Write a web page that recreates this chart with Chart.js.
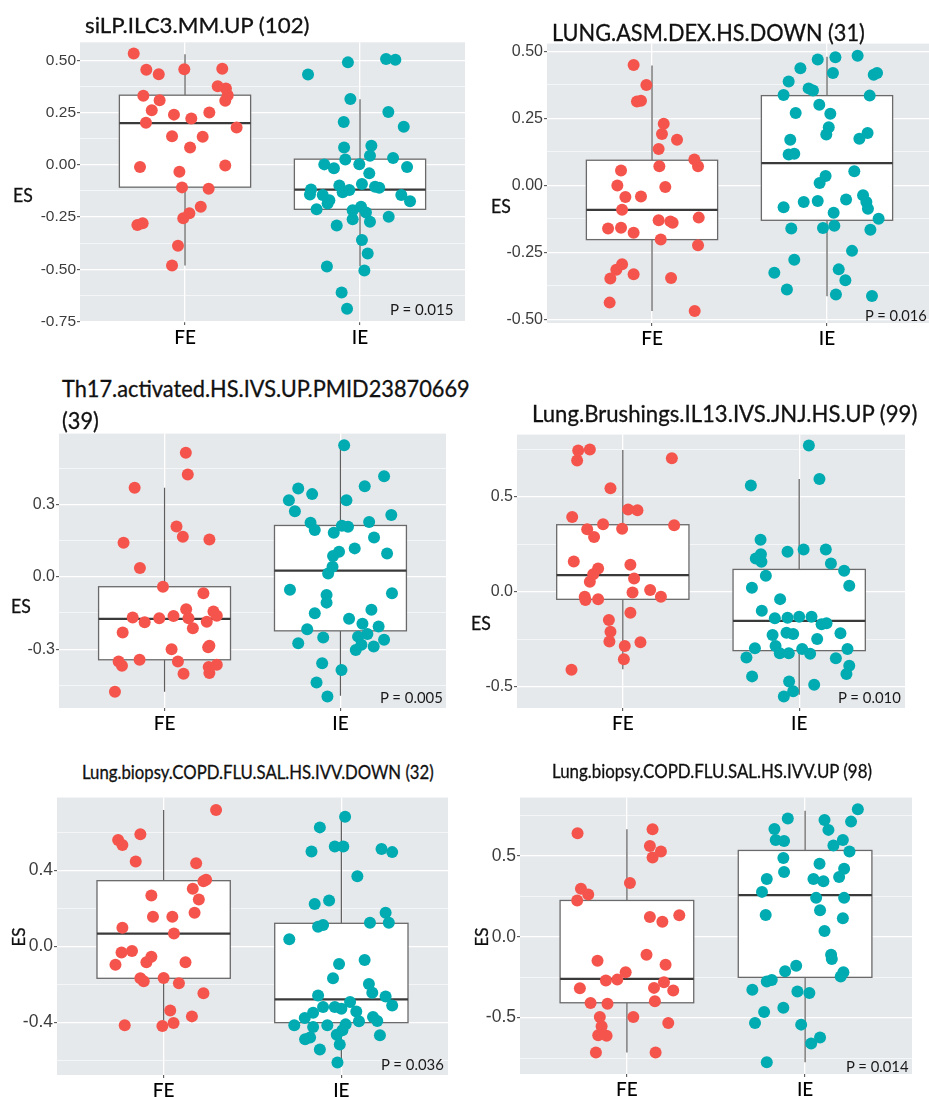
<!DOCTYPE html>
<html>
<head>
<meta charset="utf-8">
<script src="https://cdn.jsdelivr.net/npm/chart.js@4.4.1/dist/chart.umd.min.js"></script>
<style>
  body { margin: 0; width: 929px; height: 1097px; overflow: hidden; background: #fff; position: relative; }
  canvas { position: absolute; }
  .txt { position: absolute; white-space: nowrap; line-height: 1; color: #111; font-family: Lato, "Open Sans", sans-serif;
         -webkit-text-stroke: 0.3px #111; }
  .txt.thin { -webkit-text-stroke: 0; color: #1a1a1a; }
</style>
</head>
<body>
<script>
// groups on the x axis
const groups = ['FE', 'IE'];

// ---- panel 1: siLP.ILC3.MM.UP (102)
const p1FeJit = [-0.293,-0.221,-0.150,-0.004,0.213,-0.238,-0.145,-0.190,-0.223,-0.063,0.036,0.139,0.187,0.234,0.244,0.230,0.295,-0.074,0.101,0.029,-0.257,0.230,-0.032,-0.017,0.135,0.090,0.025,-0.010,-0.272,-0.242,-0.040,-0.074];
const p1FeY = [0.532,0.455,0.433,0.457,0.460,0.330,0.309,0.261,0.201,0.240,0.221,0.250,0.376,0.365,0.333,0.306,0.178,0.137,0.134,0.083,-0.010,-0.003,-0.033,-0.108,-0.115,-0.201,-0.232,-0.256,-0.288,-0.280,-0.387,-0.482];
const p1IeJit = [-0.297,-0.069,0.149,0.202,-0.055,0.162,0.250,-0.093,-0.091,0.065,0.057,-0.084,0.189,-0.204,-0.149,-0.004,0.269,0.053,0.011,-0.118,-0.099,-0.061,0.086,0.110,-0.280,-0.286,-0.213,-0.175,-0.185,0.236,0.286,-0.248,0.006,-0.042,0.034,-0.042,0.057,-0.133,0.164,0.011,0.044,-0.189,0.025,-0.105,-0.074];
const p1IeY = [0.432,0.490,0.506,0.503,0.315,0.253,0.182,0.205,0.083,0.091,0.043,0.025,0.033,0.002,-0.017,0.003,-0.010,-0.041,-0.092,-0.099,-0.131,-0.121,-0.105,-0.110,-0.118,-0.142,-0.145,-0.169,-0.185,-0.145,-0.174,-0.213,-0.201,-0.217,-0.228,-0.261,-0.272,-0.290,-0.248,-0.360,-0.424,-0.487,-0.506,-0.611,-0.689];
// box stats: lower whisker, q1, median, q3, upper whisker
const p1FeBox = [-0.482,-0.107,0.199,0.333,0.529];
const p1IeBox = [-0.484,-0.213,-0.119,0.027,0.314];
const p1Ticks = [0.5,0.25,0,-0.25,-0.5,-0.75];
const p1TickLabels = ['0.50','0.25','0.00','-0.25','-0.50','-0.75'];

// ---- panel 2: LUNG.ASM.DEX.HS.DOWN (31)
const p2FeJit = [-0.105,-0.032,-0.086,-0.063,0.067,0.057,0.143,0.038,0.242,0.263,-0.177,0.042,-0.198,0.076,-0.152,-0.063,-0.171,0.038,0.105,0.118,0.267,-0.251,-0.177,-0.105,0.050,0.263,-0.171,-0.204,-0.238,-0.105,0.109,-0.242,0.244];
const p2FeY = [0.449,0.375,0.313,0.316,0.230,0.192,0.170,0.136,0.097,0.072,0.056,0.072,0.000,-0.006,-0.043,-0.041,-0.091,-0.130,-0.134,-0.139,-0.120,-0.161,-0.158,-0.176,-0.202,-0.223,-0.294,-0.314,-0.347,-0.331,-0.345,-0.437,-0.468];
const p2IeJit = [-0.053,0.048,0.175,-0.152,0.034,0.267,0.286,-0.219,-0.105,-0.080,-0.248,0.244,-0.044,-0.179,0.019,0.010,-0.004,0.232,0.185,-0.210,-0.219,-0.187,0.156,-0.008,-0.042,-0.248,-0.133,-0.053,0.109,0.206,0.225,0.234,0.038,0.295,-0.204,-0.023,0.042,0.248,0.143,-0.187,-0.301,0.067,0.105,-0.229,0.051,0.257];
const p2IeY = [0.470,0.478,0.484,0.437,0.419,0.413,0.419,0.388,0.362,0.354,0.337,0.335,0.301,0.270,0.267,0.217,0.190,0.196,0.174,0.170,0.115,0.118,0.053,0.035,0.009,-0.081,-0.062,-0.058,-0.052,-0.037,-0.062,-0.087,-0.102,-0.124,-0.161,-0.159,-0.150,-0.165,-0.244,-0.277,-0.326,-0.313,-0.354,-0.388,-0.407,-0.412];
const p2FeBox = [-0.468,-0.202,-0.091,0.094,0.447];
const p2IeBox = [-0.413,-0.130,0.083,0.335,0.480];
const p2Ticks = [0.5,0.25,0,-0.25,-0.5];
const p2TickLabels = ['0.50','0.25','0.00','-0.25','-0.50'];

// ---- panel 3: Th17.activated.HS.IVS.UP.PMID23870669 (39)
const p3FeJit = [0.121,0.132,-0.170,-0.233,0.068,0.104,0.255,-0.140,-0.009,0.221,0.123,-0.181,-0.113,-0.030,0.051,0.136,0.278,0.297,0.240,0.161,-0.238,0.040,0.248,0.255,-0.261,-0.242,-0.142,0.076,0.108,0.251,0.297,0.255,-0.282];
const p3FeY = [0.515,0.424,0.369,0.141,0.209,0.166,0.155,0.037,-0.041,-0.068,-0.134,-0.169,-0.188,-0.172,-0.162,-0.172,-0.144,-0.161,-0.186,-0.213,-0.231,-0.300,-0.292,-0.286,-0.351,-0.369,-0.344,-0.351,-0.402,-0.374,-0.365,-0.399,-0.477];
const p3IeJit = [0.021,0.248,0.138,-0.240,-0.161,-0.293,0.034,-0.259,0.289,-0.170,-0.146,0.163,0.008,0.043,-0.038,0.191,0.081,0.265,-0.008,-0.042,-0.045,-0.070,-0.287,0.293,-0.079,-0.079,-0.146,0.176,0.049,0.125,0.217,-0.189,0.153,0.100,-0.098,0.248,-0.240,0.119,0.189,0.087,-0.104,0.006,-0.136,-0.074];
const p3IeY = [0.546,0.417,0.376,0.366,0.343,0.318,0.318,0.272,0.256,0.224,0.194,0.227,0.212,0.208,0.183,0.163,0.118,0.097,0.104,0.086,0.042,0.014,-0.054,-0.068,-0.075,-0.107,-0.151,-0.137,-0.174,-0.195,-0.206,-0.217,-0.237,-0.248,-0.252,-0.261,-0.275,-0.282,-0.289,-0.303,-0.358,-0.386,-0.438,-0.496];
const p3FeBox = [-0.477,-0.344,-0.174,-0.041,0.369];
const p3IeBox = [-0.493,-0.224,0.026,0.213,0.546];
const p3Ticks = [0.3,0,-0.3];
const p3TickLabels = ['0.3','0.0','-0.3'];

// ---- panel 4: Lung.Brushings.IL13.IVS.JNJ.HS.UP (99)
const p4FeJit = [-0.253,-0.187,-0.259,0.278,-0.070,0.030,0.083,-0.287,-0.112,-0.004,0.291,-0.202,-0.163,-0.278,0.043,-0.140,-0.168,-0.187,0.064,0.055,0.155,0.216,-0.216,-0.212,-0.140,0.043,-0.079,-0.070,-0.076,0.011,0.100,0.006,-0.291];
const p4FeY = [0.746,0.751,0.693,0.705,0.547,0.435,0.430,0.395,0.356,0.333,0.351,0.330,0.289,0.160,0.142,0.123,0.093,0.053,0.070,-0.004,0.009,-0.026,-0.026,-0.044,-0.040,-0.111,-0.149,-0.211,-0.263,-0.286,-0.267,-0.356,-0.412];
const p4IeJit = [0.055,0.115,-0.274,-0.219,-0.217,-0.246,-0.214,-0.066,0.025,0.151,0.180,0.255,-0.189,0.284,-0.268,-0.108,-0.212,-0.138,-0.066,0.000,0.070,0.127,0.155,-0.072,-0.034,-0.151,0.234,0.102,-0.251,-0.134,0.017,0.274,-0.110,-0.059,0.062,-0.299,0.208,0.284,0.268,-0.267,-0.057,0.085,-0.034,-0.087];
const p4IeY = [0.772,0.596,0.561,0.275,0.198,0.175,0.158,0.211,0.223,0.223,0.149,0.111,0.084,0.032,0.021,-0.039,-0.100,-0.140,-0.137,-0.132,-0.132,-0.172,-0.167,-0.216,-0.223,-0.228,-0.219,-0.249,-0.298,-0.286,-0.302,-0.302,-0.325,-0.325,-0.328,-0.347,-0.351,-0.391,-0.435,-0.447,-0.474,-0.491,-0.526,-0.553];
const p4FeBox = [-0.409,-0.040,0.088,0.354,0.749];
const p4IeBox = [-0.544,-0.311,-0.154,0.118,0.596];
const p4Ticks = [0.5,0,-0.5];
const p4TickLabels = ['0.5','0.0','-0.5'];

// ---- panel 5: Lung.biopsy.COPD.FLU.SAL.HS.IVV.DOWN (32)
const p5FeJit = [0.295,-0.131,-0.256,-0.232,-0.157,0.183,0.239,0.224,0.164,0.198,-0.069,-0.060,0.049,0.174,-0.232,0.058,-0.178,-0.237,-0.069,-0.097,-0.271,0.123,-0.131,-0.112,0.000,0.086,0.224,0.037,0.159,-0.219,-0.007,0.056];
const p5FeY = [0.717,0.590,0.560,0.534,0.447,0.438,0.351,0.343,0.304,0.247,0.268,0.157,0.157,0.177,0.099,0.068,-0.023,-0.031,-0.054,-0.083,-0.096,-0.083,-0.167,-0.183,-0.165,-0.193,-0.245,-0.336,-0.367,-0.414,-0.417,-0.402];
const p5IeJit = [0.021,-0.121,-0.037,0.011,-0.168,0.226,0.286,0.090,-0.069,-0.150,0.249,0.161,0.267,-0.131,-0.103,-0.293,-0.013,0.131,-0.047,0.155,0.174,-0.131,0.249,0.286,0.049,-0.103,-0.037,0.000,-0.159,0.084,-0.206,0.178,0.099,0.202,-0.265,-0.159,-0.079,0.024,0.006,-0.026,-0.204,-0.176,0.217,-0.009,-0.121,-0.022];
const p5IeY = [0.682,0.626,0.525,0.525,0.499,0.513,0.496,0.369,0.242,0.224,0.177,0.125,0.125,0.104,0.113,0.038,-0.092,-0.071,-0.167,-0.197,-0.243,-0.257,-0.263,-0.310,-0.292,-0.318,-0.318,-0.327,-0.348,-0.341,-0.376,-0.370,-0.393,-0.391,-0.414,-0.423,-0.414,-0.409,-0.440,-0.463,-0.487,-0.478,-0.466,-0.515,-0.541,-0.609];
const p5FeBox = [-0.388,-0.167,0.068,0.346,0.717];
const p5IeBox = [-0.609,-0.400,-0.278,0.122,0.682];
const p5Ticks = [0.4,0,-0.4];
const p5TickLabels = ['0.4','0.0','-0.4'];

// ---- panel 6: Lung.biopsy.COPD.FLU.SAL.HS.IVV.UP (98)
const p6FeJit = [-0.277,0.144,0.129,0.191,0.144,0.017,-0.258,-0.217,-0.279,0.129,0.199,0.294,0.110,-0.165,0.217,-0.007,-0.054,-0.118,0.208,-0.264,0.152,0.260,-0.204,-0.109,0.157,-0.152,0.036,-0.142,-0.161,-0.114,0.232,-0.174,0.161];
const p6FeY = [0.639,0.664,0.561,0.527,0.490,0.332,0.296,0.261,0.224,0.122,0.093,0.132,-0.111,-0.148,-0.173,-0.220,-0.265,-0.271,-0.281,-0.318,-0.316,-0.332,-0.410,-0.414,-0.398,-0.496,-0.496,-0.553,-0.608,-0.612,-0.533,-0.715,-0.715];
const p6IeJit = [0.296,-0.097,0.109,0.258,0.131,-0.172,-0.165,-0.118,0.212,0.159,0.249,-0.122,0.081,0.219,-0.118,0.191,-0.215,0.047,0.103,-0.242,0.062,0.219,0.084,-0.221,0.212,0.109,0.146,0.150,-0.050,-0.112,0.215,0.200,-0.187,-0.215,-0.296,-0.043,0.024,-0.122,-0.230,-0.281,-0.022,0.084,0.034,-0.215];
const p6IeY = [0.788,0.731,0.721,0.711,0.660,0.666,0.598,0.592,0.598,0.563,0.527,0.486,0.451,0.420,0.400,0.369,0.357,0.357,0.343,0.277,0.240,0.240,0.163,0.134,0.114,0.036,-0.111,-0.138,-0.179,-0.214,-0.220,-0.246,-0.267,-0.277,-0.328,-0.338,-0.347,-0.439,-0.465,-0.533,-0.543,-0.623,-0.660,-0.776];
const p6FeBox = [-0.715,-0.408,-0.261,0.224,0.664];
const p6IeBox = [-0.776,-0.251,0.257,0.533,0.778];
const p6Ticks = [0.5,0,-0.5];
const p6TickLabels = ['0.5','0.0','-0.5'];

const titles = ['siLP.ILC3.MM.UP (102)', 'LUNG.ASM.DEX.HS.DOWN (31)', 'Th17.activated.HS.IVS.UP.PMID23870669',
  'Lung.Brushings.IL13.IVS.JNJ.HS.UP (99)', 'Lung.biopsy.COPD.FLU.SAL.HS.IVV.DOWN (32)', 'Lung.biopsy.COPD.FLU.SAL.HS.IVV.UP (98)'];
const pValues = ['P = 0.015', 'P = 0.016', 'P = 0.005', 'P = 0.010', 'P = 0.036', 'P = 0.014'];

const RED = '#F5544C', TEAL = '#00ABB1', PANEL_BG = '#E6E9EC';

// plot rectangles on the page and y ranges
const panels = [
  { feJit: p1FeJit, feY: p1FeY, ieJit: p1IeJit, ieY: p1IeY, feBox: p1FeBox, ieBox: p1IeBox, ticks: p1Ticks, labels: p1TickLabels,
    l: 80, t: 42, r: 465, b: 321.7, ymin: -0.752, ymax: 0.586, minor: [0.375,0.125,-0.125,-0.375,-0.625], tsize: 15.5 },
  { feJit: p2FeJit, feY: p2FeY, ieJit: p2IeJit, ieY: p2IeY, feBox: p2FeBox, ieBox: p2IeBox, ticks: p2Ticks, labels: p2TickLabels,
    l: 546.7, t: 43, r: 931.7, b: 322.7, ymin: -0.513, ymax: 0.529, minor: [0.375,0.125,-0.125,-0.375], tsize: 16 },
  { feJit: p3FeJit, feY: p3FeY, ieJit: p3IeJit, ieY: p3IeY, feBox: p3FeBox, ieBox: p3IeBox, ticks: p3Ticks, labels: p3TickLabels,
    l: 59.3, t: 433.3, r: 446, b: 708.3, ymin: -0.544, ymax: 0.594, minor: [0.45,0.15,-0.15,-0.45], tsize: 16 },
  { feJit: p4FeJit, feY: p4FeY, ieJit: p4IeJit, ieY: p4IeY, feBox: p4FeBox, ieBox: p4IeBox, ticks: p4Ticks, labels: p4TickLabels,
    l: 517.3, t: 434, r: 905, b: 708.3, ymin: -0.614, ymax: 0.830, minor: [0.75,0.25,-0.25], tsize: 16 },
  { feJit: p5FeJit, feY: p5FeY, ieJit: p5IeJit, ieY: p5IeY, feBox: p5FeBox, ieBox: p5IeBox, ticks: p5Ticks, labels: p5TickLabels,
    l: 57.3, t: 795.7, r: 448.3, b: 1075, ymin: -0.675, ymax: 0.783, minor: [0.6,0.2,-0.2,-0.6], tsize: 17.5 },
  { feJit: p6FeJit, feY: p6FeY, ieJit: p6IeJit, ieY: p6IeY, feBox: p6FeBox, ieBox: p6IeBox, ticks: p6Ticks, labels: p6TickLabels,
    l: 520, t: 795.7, r: 911.7, b: 1074, ymin: -0.848, ymax: 0.860, minor: [0.75,0.25,-0.25,-0.75], tsize: 17.5 }
];

// grey panel + boxplots drawn under the points
function boxPlugin(stats) {
  return {
    id: 'boxes',
    beforeDraw(chart) {
      const a = chart.chartArea, c = chart.ctx;
      c.save();
      c.fillStyle = PANEL_BG;
      c.fillRect(a.left, a.top, a.right - a.left, a.bottom - a.top);
      c.restore();
    },
    beforeDatasetsDraw(chart) {
      const xs = chart.scales.x, ys = chart.scales.y, c = chart.ctx;
      stats.forEach((s, i) => {
        const cx = xs.getPixelForValue(i + 1);
        const x0 = xs.getPixelForValue(i + 1 - 0.375), x1 = xs.getPixelForValue(i + 1 + 0.375);
        const [lo, q1, med, q3, hi] = s.map(v => ys.getPixelForValue(v));
        c.save();
        c.strokeStyle = '#5e5e5e';
        c.lineWidth = 1.2;
        c.beginPath();
        c.moveTo(cx, lo); c.lineTo(cx, q1);
        c.moveTo(cx, q3); c.lineTo(cx, hi);
        c.stroke();
        c.fillStyle = '#fff';
        c.fillRect(x0, q3, x1 - x0, q1 - q3);
        c.lineWidth = 1.3;
        c.strokeStyle = '#6a6a6a';
        c.strokeRect(x0, q3, x1 - x0, q1 - q3);
        c.strokeStyle = '#3a3a3a';
        c.lineWidth = 2.3;
        c.beginPath();
        c.moveTo(x0, med); c.lineTo(x1, med);
        c.stroke();
        c.restore();
      });
    }
  };
}

function makePanel(p) {
  const AXW = 70, AXH = 34, PT = 10, PR = 6;
  const w = Math.round(p.r - p.l + AXW + PR), h = Math.round(p.b - p.t + PT + AXH);
  const cv = document.createElement('canvas');
  cv.width = w; cv.height = h;
  cv.style.width = w + 'px'; cv.style.height = h + 'px';
  cv.style.left = (p.l - AXW) + 'px';
  cv.style.top = (p.t - PT) + 'px';
  document.body.appendChild(cv);

  const isMajor = v => p.ticks.some(t => Math.abs(t - v) < 1e-9);
  const yVals = p.ticks.concat(p.minor).sort((a, b) => a - b);

  new Chart(cv, {
    type: 'scatter',
    data: {
      datasets: [
        { label: groups[0], data: p.feY.map((y, i) => ({ x: 1 + p.feJit[i], y: y })),
          backgroundColor: RED, pointRadius: 6, borderWidth: 0, clip: false },
        { label: groups[1], data: p.ieY.map((y, i) => ({ x: 2 + p.ieJit[i], y: y })),
          backgroundColor: TEAL, pointRadius: 6, borderWidth: 0, clip: false }
      ]
    },
    options: {
      responsive: false,
      animation: false,
      devicePixelRatio: 1,
      events: [],
      layout: { padding: { top: PT, right: PR, left: 0, bottom: 0 }, autoPadding: false },
      plugins: { legend: { display: false }, tooltip: { enabled: false } },
      scales: {
        x: {
          type: 'linear', min: 0.4, max: 2.6,
          afterBuildTicks: ax => { ax.ticks = [1, 2].map(v => ({ value: v })); },
          afterFit: s => { s.height = AXH; },
          border: { display: false },
          grid: { color: '#fff', lineWidth: 1.3, tickColor: '#444', tickLength: 3, tickWidth: 1 },
          ticks: { callback: v => groups[v - 1], color: '#000', autoSkip: false, maxRotation: 0, padding: 1,
                   font: { family: 'Lato, "Open Sans", sans-serif', size: 19, weight: '500' } }
        },
        y: {
          min: p.ymin, max: p.ymax,
          afterBuildTicks: ax => { ax.ticks = yVals.map(v => ({ value: v })); },
          afterFit: s => { s.width = AXW; },
          border: { display: false },
          grid: {
            color: '#fff',
            lineWidth: c => isMajor(c.tick.value) ? 1.3 : 0.6,
            tickColor: c => isMajor(c.tick.value) ? '#444' : 'rgba(0,0,0,0)',
            tickLength: 3, tickWidth: 1
          },
          ticks: {
            autoSkip: false, padding: 1, color: '#3c3c3c',
            font: { family: '"Liberation Sans", Arial, sans-serif', size: p.tsize },
            callback: v => { const k = p.ticks.findIndex(t => Math.abs(t - v) < 1e-9); return k < 0 ? '' : p.labels[k]; }
          }
        }
      }
    },
    plugins: [boxPlugin([p.feBox, p.ieBox])]
  });
}

panels.forEach(makePanel);

// text labels: font size from the measured cap height, then squeezed to the measured width
function addText(str, o) {
  const el = document.createElement('div');
  el.className = 'txt' + (o.thin ? ' thin' : '');
  el.textContent = str;
  el.style.fontSize = o.size + 'px';
  document.body.appendChild(el);
  const k = o.w ? o.w / el.offsetWidth : 1;
  if (o.rot) {
    el.style.left = o.cx + 'px';
    el.style.top = o.cy + 'px';
    el.style.transform = 'translate(-50%,-50%) rotate(-90deg) scaleX(' + k + ')';
  } else {
    el.style.transformOrigin = '0 50%';
    el.style.top = o.cy + 'px';
    el.style.left = (o.right != null ? o.right - o.w : o.x) + 'px';
    el.style.transform = 'translateY(-50%) scaleX(' + k + ')';
  }
  return k;
}

addText(titles[0], { x: 85, cy: 25, w: 225, size: 22 });
addText(titles[1], { x: 551.7, cy: 31.7, w: 312.6, size: 23 });
const k3 = addText(titles[2], { x: 61.7, cy: 388.3, w: 408, size: 23 });
const el39 = document.createElement('div');
el39.className = 'txt'; el39.textContent = '(39)';
el39.style.fontSize = '23px'; el39.style.left = '61.7px'; el39.style.top = '420px';
el39.style.transformOrigin = '0 50%';
el39.style.transform = 'translateY(-50%) scaleX(' + k3 + ')';
document.body.appendChild(el39);
addText(titles[3], { x: 531.7, cy: 413.3, w: 385.7, size: 23 });
addText(titles[4], { x: 81.7, cy: 771.7, w: 351.7, size: 18.5 });
addText(titles[5], { x: 552.3, cy: 770.7, w: 320, size: 18.5 });

addText('ES', { x: 13.3, cy: 194.3, w: 19.5, size: 19 });
addText('ES', { x: 490.7, cy: 205, w: 19.5, size: 19 });
addText('ES', { x: 10.7, cy: 605, w: 19.5, size: 19 });
addText('ES', { x: 471, cy: 622.3, w: 19.5, size: 19 });
addText('ES', { cx: 18, cy: 936.7, w: 19, size: 17, rot: true });
addText('ES', { cx: 481, cy: 936.7, w: 19, size: 17, rot: true });

addText(pValues[0], { right: 454, cy: 309, w: 64, size: 16, thin: true });
addText(pValues[1], { right: 927.3, cy: 315, w: 62.3, size: 16, thin: true });
addText(pValues[2], { right: 443.3, cy: 696.7, w: 63.3, size: 16, thin: true });
addText(pValues[3], { right: 901.7, cy: 697.3, w: 63.3, size: 16, thin: true });
addText(pValues[4], { right: 444, cy: 1064.3, w: 63.3, size: 16, thin: true });
addText(pValues[5], { right: 909, cy: 1066, w: 63, size: 16, thin: true });
</script>
</body>
</html>
